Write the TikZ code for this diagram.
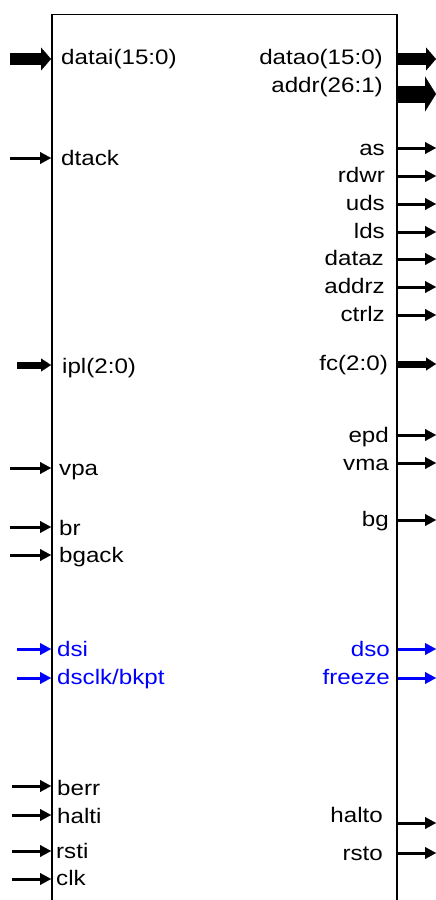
\documentclass[tikz,border=0pt]{standalone}
\usepackage{fontspec}
\setmainfont{Liberation Sans}
\usepackage{graphicx}
\usetikzlibrary{arrows.meta}
\newcommand{\wide}[1]{\scalebox{1.15}[1]{#1}}
\begin{document}
\begin{tikzpicture}[x=1pt,y=-1pt,
  lbl/.style={inner sep=0pt,font=\fontsize{21}{21}\selectfont,text height=15pt,text depth=4.4pt},
  sig/.style={line width=3pt,-{Triangle[length=11pt,width=12pt,line width=0.1pt]}},
  bus/.style={line width=12pt,-{Triangle[length=10pt,width=23pt,line width=0.1pt]}},
  narrowbus/.style={line width=7pt,-{Triangle[length=10pt,width=13pt,line width=0.1pt]}},
  widebus/.style={line width=17pt,-{Triangle[length=11pt,width=35pt,line width=0.1pt]}},
  dbg/.style={blue}]
\useasboundingbox (0,0) rectangle (436,900);
\node[draw,line width=1.5pt,inner sep=0pt,minimum width=345pt,minimum height=920pt,anchor=north west] (chip) at (51,13.5) {};

\node[lbl,anchor=west] (datai) at (61,59) {\wide{datai(15:0)}};
\coordinate (datai-src) at (10,59);
\draw[bus] (datai-src) -- (datai-src -| chip.west);
\node[lbl,anchor=west] (ipl) at (62,368) {\wide{ipl(2:0)}};
\coordinate (ipl-src) at (17,365);
\draw[narrowbus] (ipl-src) -- (ipl-src -| chip.west);

\node[lbl,anchor=east] (datao) at (383,59) {\wide{datao(15:0)}};
\coordinate (datao-dst) at (436,59);
\draw[bus] (datao-dst -| chip.east) -- (datao-dst);
\node[lbl,anchor=east] (addr) at (383,87) {\wide{addr(26:1)}};
\coordinate (addr-dst) at (436,94);
\draw[widebus] (addr-dst -| chip.east) -- (addr-dst);
\node[lbl,anchor=east] (fc) at (388,365) {\wide{fc(2:0)}};
\coordinate (fc-dst) at (436,364);
\draw[narrowbus] (fc-dst -| chip.east) -- (fc-dst);

\foreach \nm/\txt/\lx/\ly/\ay/\sx in {dtack/dtack/61/160/158/10, vpa/vpa/59/470/468/10,
    br/br/59/530/527/10, bgack/bgack/59/557/555/10, berr/berr/57/790/786/12,
    halti/halti/57/818/815/12, rsti/rsti/56/853/851/12, clk/clk/56/880/879/12}{
  \node[lbl,anchor=west] (\nm) at (\lx,\ly) {\wide{\txt}};
  \coordinate (\nm-src) at (\sx,\ay);
  \draw[sig] (\nm-src) -- (\nm-src -| chip.west);
}
\foreach \nm/\txt/\ly/\ay in {dsi/dsi/651/649, dsclk/{dsclk/bkpt}/679/678}{
  \node[lbl,dbg,anchor=west] (\nm) at (57,\ly) {\wide{\txt}};
  \coordinate (\nm-src) at (17,\ay);
  \draw[sig,dbg] (\nm-src) -- (\nm-src -| chip.west);
}
\foreach \nm/\rx/\ly/\ay in {as/385/150/148, rdwr/385/177/176, uds/385/205/204,
    lds/385/233/232, dataz/384/260/259, addrz/385/288/287, ctrlz/385/316/315,
    epd/389/437/435, vma/389/465/463, bg/389/521/520, halto/383/817/823, rsto/383/855/853}{
  \node[lbl,anchor=east] (\nm) at (\rx,\ly) {\wide{\nm}};
  \coordinate (\nm-dst) at (436,\ay);
  \draw[sig] (\nm-dst -| chip.east) -- (\nm-dst);
}
\foreach \nm/\ly/\ay in {dso/651/649, freeze/679/678}{
  \node[lbl,dbg,anchor=east] (\nm) at (390,\ly) {\wide{\nm}};
  \coordinate (\nm-dst) at (436,\ay);
  \draw[sig,dbg] (\nm-dst -| chip.east) -- (\nm-dst);
}
\end{tikzpicture}
\end{document}
